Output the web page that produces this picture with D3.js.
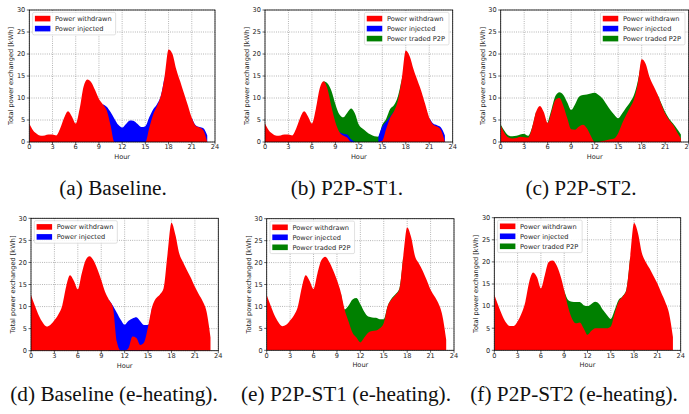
<!DOCTYPE html>
<html>
<head>
<meta charset="utf-8">
<script src="https://cdn.jsdelivr.net/npm/d3@7"></script>
<style>
	body { margin: 0; background: #fff; }
	svg { display: block; }
</style>
</head>
<body>
<svg id="chart" width="689" height="414"></svg>
<script>
// half-hour samples, 0h to 23h
var hours = [0, 0.5, 1, 1.5, 2, 2.5, 3, 3.5, 4, 4.5, 5, 5.5, 6, 6.5, 7, 7.5, 8, 8.5, 9, 9.5,
	10, 10.5, 11, 11.5, 12, 12.5, 13, 13.5, 14, 14.5, 15, 15.5, 16, 16.5, 17, 17.5, 18, 18.5, 19, 19.5,
	20, 20.5, 21, 21.5, 22, 22.5, 23]

var xTicks = [0, 3, 6, 9, 12, 15, 18, 21, 24]
var yTicks = [0, 5, 10, 15, 20, 25, 30]
var legendLabels = ['Power withdrawn', 'Power injected', 'Power traded P2P']

// (a) Baseline
var aWithdrawn = [4.2, 2.6, 1.8, 1.4, 1.5, 1.7, 1.7, 1.5, 3.1, 5.5,
	7.0, 5.8, 4.2, 7.5, 12.5, 14.2, 13.6, 11.8, 9.8, 8.6,
	7.2, 3.8, 0, 0, 0, 0, 0, 0, 0, 0,
	0, 3.2, 6.2, 8.2, 10.5, 15.0, 21.0, 20.0, 16.5, 13.8,
	11.0, 8.3, 5.5, 3.7, 3.3, 2.6, 0]
var aInjected = [null, null, null, null, null, null, null, null, null, null,
	null, null, null, null, null, null, null, null, null, 8.6,
	8.0, 6.8, 5.3, 3.9, 3.3, 4.1, 4.9, 4.8, 4.1, 3.4,
	3.6, 5.6, 7.4, 8.6, 10.5, 15.0, null, null, null, null,
	null, null, 5.5, 3.8, 3.4, 3.1, 1.5]

// (b) P2P-ST1
var bWithdrawn = [4.2, 2.6, 1.8, 1.4, 1.5, 1.7, 1.7, 1.5, 3.1, 5.5,
	7.0, 5.8, 4.2, 7.5, 12.2, 13.8, 12.0, 8.0, 4.5, 2.3,
	1.5, 1.0, 0, 0, 0, 0, 0, 0, 0, 0,
	0.3, 3.0, 5.5, 7.0, 9.5, 14.5, 20.8, 19.5, 16.5, 14.0,
	11.5, 8.5, 5.5, 4.0, 3.5, 2.7, 0]
var bInjected = [null, null, null, null, null, null, null, null, null, null,
	null, null, null, null, null, null, null, null, null, 2.3,
	1.9, 1.7, 0.6, 0, null, null, null, null, null, 1.2,
	3.5, 4.6, 5.8, 7.0, null, null, null, null, null, null,
	null, null, 5.5, 4.2, 3.8, 3.3, 1.5]
var bTraded = [null, null, null, null, null, null, null, null, null, null,
	null, null, null, null, null, 13.8, 13.3, 11.6, 8.6, 6.3,
	5.6, 6.6, 7.6, 6.5, 3.9, 3.0, 2.3, 1.7, 1.3, 1.2,
	3.9, 5.3, 7.5, 8.4, 10.4, 14.5, null, null, null, null,
	null, null, null, null, null, null, null]

// (c) P2P-ST2
var cWithdrawn = [3.8, 2.0, 1.0, 0.8, 0.9, 1.2, 1.1, 1.0, 3.2, 6.8,
	8.2, 6.8, 4.3, 7.0, 9.6, 10.0, 8.2, 5.4, 2.9, 2.8,
	3.5, 3.9, 3.1, 1.4, 0, 0, 0.2, 0.4, 0.6, 0.8,
	2.0, 4.2, 6.1, 7.8, 9.6, 13.3, 18.8, 17.8, 14.8, 12.8,
	10.9, 8.6, 6.5, 5.0, 3.9, 2.3, 0.8]
var cTraded = [4.0, 2.5, 1.5, 1.3, 1.4, 1.7, 1.8, 1.4, 3.3, 6.8,
	null, null, 4.3, 7.5, 10.5, 11.3, 10.7, 9.0, 7.3, 8.6,
	10.3, 10.7, 10.8, 11.0, 11.2, 10.7, 9.9, 8.6, 7.3, 6.2,
	5.4, 6.5, 7.8, 9.0, 10.6, 13.8, 18.8, null, null, null,
	10.9, 8.8, 6.8, 5.3, 4.2, 3.0, 1.7]

// (d) Baseline (e-heating)
var dWithdrawn = [12.6, 10.2, 8.0, 6.4, 5.5, 5.9, 6.9, 8.2, 10.2, 14.5,
	17.1, 15.8, 13.9, 17.5, 20.5, 21.4, 20.5, 18.5, 16.0, 13.3,
	11.5, 9.8, 2.0, 0, 0, 0.6, 3.2, 2.9, 1.3, 1.9,
	5.4, 9.8, 11.8, 12.7, 14.2, 22.0, 29.0, 26.3, 22.0, 20.0,
	18.2, 16.5, 14.5, 12.8, 11.2, 8.8, 3.0]
var dInjected = [null, null, null, null, null, null, null, null, null, null,
	null, null, null, null, null, null, null, null, null, null,
	11.5, 10.2, 8.6, 7.0, 5.9, 6.8, 7.3, 7.6, 6.7, 5.8,
	5.8, 9.8, null, null, null, null, null, null, null, null,
	null, null, null, null, null, null, null]

// (e) P2P-ST1 (e-heating)
var eWithdrawn = [12.6, 10.2, 8.0, 6.4, 5.5, 5.8, 6.8, 8.0, 10.0, 14.3,
	17.1, 15.8, 14.0, 17.5, 20.5, 21.3, 20.2, 18.3, 16.0, 13.2,
	9.2, 6.5, 4.0, 2.9, 1.8, 2.9, 4.0, 4.4, 4.5, 5.0,
	6.2, 10.1, 11.6, 12.6, 13.9, 21.5, 28.0, 25.8, 21.5, 19.8,
	18.1, 16.0, 13.8, 12.3, 10.7, 8.0, 2.4]
var eTraded = [null, null, null, null, null, null, null, null, null, null,
	null, null, null, null, null, null, null, null, null, 13.2,
	9.3, 10.2, 11.6, 11.9, 10.5, 8.8, 7.7, 7.5, 7.4, 7.1,
	7.1, 10.1, 11.8, 12.8, 14.1, 21.5, null, null, null, null,
	null, null, null, null, null, null, null]

// (f) P2P-ST2 (e-heating)
var fWithdrawn = [12.6, 10.2, 8.0, 6.3, 5.5, 5.5, 6.5, 8.3, 11.0, 15.5,
	17.6, 16.5, 14.0, 17.0, 20.0, 20.3, 19.3, 17.0, 13.6, 9.8,
	7.2, 6.1, 6.3, 5.0, 3.5, 4.4, 5.0, 5.0, 5.0, 5.0,
	5.4, 8.4, 11.0, 12.1, 13.6, 21.2, 28.8, 26.5, 22.0, 20.0,
	18.5, 16.8, 15.1, 13.0, 11.0, 8.4, 3.0]
var fTraded = [null, null, null, null, null, null, null, null, null, null,
	null, null, null, null, null, null, null, null, 13.6, 11.4,
	11.0, 10.9, 10.9, 10.2, 10.0, 10.5, 11.0, 10.5, 9.1, 8.0,
	7.1, 9.1, 11.4, 12.2, 13.7, 21.2, null, null, null, null,
	null, null, null, null, null, null, null]

var colors = { withdrawn: '#ff0000', injected: '#0000ff', traded: '#008000' }
var legendColors = [colors.withdrawn, colors.injected, colors.traded]

var panels = [
	{ left: 29.3, top: 10, width: 185.7, height: 132, legend: 'left', entries: 2,
		withdrawn: aWithdrawn, injected: aInjected, traded: null, caption: '(a) Baseline.', cx: 113, cy: 195.3 },
	{ left: 265, top: 10, width: 187.7, height: 132, legend: 'right', entries: 3,
		withdrawn: bWithdrawn, injected: bInjected, traded: bTraded, caption: '(b) P2P-ST1.', cx: 347, cy: 195.3 },
	{ left: 500.7, top: 10, width: 188, height: 132, legend: 'right', entries: 3,
		withdrawn: cWithdrawn, injected: null, traded: cTraded, caption: '(c) P2P-ST2.', cx: 581, cy: 195.3 },
	{ left: 31, top: 218.3, width: 187.3, height: 132.4, legend: 'left', entries: 2,
		withdrawn: dWithdrawn, injected: dInjected, traded: null, caption: '(d) Baseline (e-heating).', cx: 114, cy: 400.5 },
	{ left: 266.7, top: 218.7, width: 187.3, height: 131.6, legend: 'left', entries: 3,
		withdrawn: eWithdrawn, injected: null, traded: eTraded, caption: '(e) P2P-ST1 (e-heating).', cx: 346, cy: 400.5 },
	{ left: 494.3, top: 217.7, width: 186.4, height: 132.6, legend: 'left', entries: 3,
		withdrawn: fWithdrawn, injected: null, traded: fTraded, caption: '(f) P2P-ST2 (e-heating).', cx: 574, cy: 400.5 }
]

var svg = d3.select('#chart')
var tickFont = 'DejaVu Sans, sans-serif'

panels.forEach(function (p, i) {
	var x = d3.scaleLinear().domain([0, 24]).range([0, p.width])
	var y = d3.scaleLinear().domain([0, 30]).range([p.height, 0])

	var g = svg.append('g')
		.attr('transform', 'translate(' + p.left + ',' + p.top + ')')

	svg.append('clipPath')
		.attr('id', 'clip' + i)
		.append('rect')
		.attr('width', p.width)
		.attr('height', p.height)

	// dotted grid
	g.selectAll('.gx')
		.data(xTicks)
		.enter()
		.append('line')
		.attr('x1', function (d) { return x(d) })
		.attr('x2', function (d) { return x(d) })
		.attr('y1', 0)
		.attr('y2', p.height)
		.style('stroke', '#999')
		.style('stroke-width', 0.8)
		.style('stroke-dasharray', '0.9,1.3')
	g.selectAll('.gy')
		.data(yTicks)
		.enter()
		.append('line')
		.attr('y1', function (d) { return y(d) })
		.attr('y2', function (d) { return y(d) })
		.attr('x1', 0)
		.attr('x2', p.width)
		.style('stroke', '#999')
		.style('stroke-width', 0.8)
		.style('stroke-dasharray', '0.9,1.3')

	var area = d3.area()
		.defined(function (d) { return d[1] != null })
		.x(function (d) { return x(d[0]) })
		.y0(y(0))
		.y1(function (d) { return y(d[1]) })
		.curve(d3.curveMonotoneX)

	var plot = g.append('g').attr('clip-path', 'url(#clip' + i + ')')

	// traded drawn first, then injected, withdrawn on top
	var layers = [
		{ values: p.traded, color: colors.traded },
		{ values: p.injected, color: colors.injected },
		{ values: p.withdrawn, color: colors.withdrawn }
	]
	layers.forEach(function (l) {
		if (!l.values) return
		plot.append('path')
			.datum(hours.map(function (h, k) { return [h, l.values[k]] }))
			.attr('d', area)
			.style('fill', l.color)
			.style('stroke', 'none')
	})

	// frame
	g.append('rect')
		.attr('width', p.width)
		.attr('height', p.height)
		.style('fill', 'none')
		.style('stroke', '#000')
		.style('stroke-width', 0.8)

	// ticks
	g.selectAll('.tx')
		.data(xTicks)
		.enter()
		.append('line')
		.attr('x1', function (d) { return x(d) })
		.attr('x2', function (d) { return x(d) })
		.attr('y1', p.height)
		.attr('y2', p.height + 2.5)
		.style('stroke', '#000')
		.style('stroke-width', 0.6)
	g.selectAll('.ty')
		.data(yTicks)
		.enter()
		.append('line')
		.attr('y1', function (d) { return y(d) })
		.attr('y2', function (d) { return y(d) })
		.attr('x1', -2.5)
		.attr('x2', 0)
		.style('stroke', '#000')
		.style('stroke-width', 0.6)

	g.selectAll('.lx')
		.data(xTicks)
		.enter()
		.append('text')
		.text(function (d) { return d })
		.attr('x', function (d) { return x(d) })
		.attr('y', p.height + 7.3)
		.attr('text-anchor', 'middle')
		.style('font-family', tickFont)
		.style('font-size', '6.6px')
		.style('fill', '#262626')
	g.selectAll('.ly')
		.data(yTicks)
		.enter()
		.append('text')
		.text(function (d) { return d })
		.attr('x', -4)
		.attr('y', function (d) { return y(d) + 2.4 })
		.attr('text-anchor', 'end')
		.style('font-family', tickFont)
		.style('font-size', '6.6px')
		.style('fill', '#262626')

	g.append('text')
		.text('Hour')
		.attr('x', p.width / 2)
		.attr('y', p.height + 17)
		.attr('text-anchor', 'middle')
		.style('font-family', tickFont)
		.style('font-size', '6.6px')
		.style('fill', '#262626')

	g.append('text')
		.text('Total power exchanged [kWh]')
		.attr('transform', 'translate(-18.5,' + (p.height / 2) + ') rotate(-90)')
		.attr('dy', '0.35em')
		.attr('text-anchor', 'middle')
		.style('font-family', tickFont)
		.style('font-size', '6.6px')
		.style('fill', '#262626')

	// legend
	var leg = g.append('g')
	var box = leg.append('rect')
		.attr('rx', 1.5)
		.style('fill', '#fff')
		.style('fill-opacity', 0.85)
		.style('stroke', '#cccccc')
		.style('stroke-width', 0.6)
	var maxW = 0
	for (var k = 0; k < p.entries; k++) {
		leg.append('rect')
			.attr('x', 2.3)
			.attr('y', 6.2 + k * 10 - 2.8)
			.attr('width', 15.5)
			.attr('height', 5.6)
			.style('fill', legendColors[k])
		var t = leg.append('text')
			.text(legendLabels[k])
			.attr('x', 22.5)
			.attr('y', 6.2 + k * 10 + 2.4)
			.style('font-family', tickFont)
			.style('font-size', '6.6px')
			.style('fill', '#262626')
		maxW = Math.max(maxW, t.node().getComputedTextLength())
	}
	var bw = maxW + 26.5
	var bh = p.entries * 10 + 2.5
	box.attr('width', bw).attr('height', bh)
	var lx = p.legend == 'left' ? 3.3 : p.width - 3.7 - bw
	leg.attr('transform', 'translate(' + lx + ',2.4)')

	// caption
	svg.append('text')
		.text(p.caption)
		.attr('x', p.cx)
		.attr('y', p.cy)
		.attr('text-anchor', 'middle')
		.style('font-family', 'Liberation Serif, Times New Roman, serif')
		.style('font-size', '21.3px')
		.style('fill', '#111')
})
</script>
</body>
</html>
